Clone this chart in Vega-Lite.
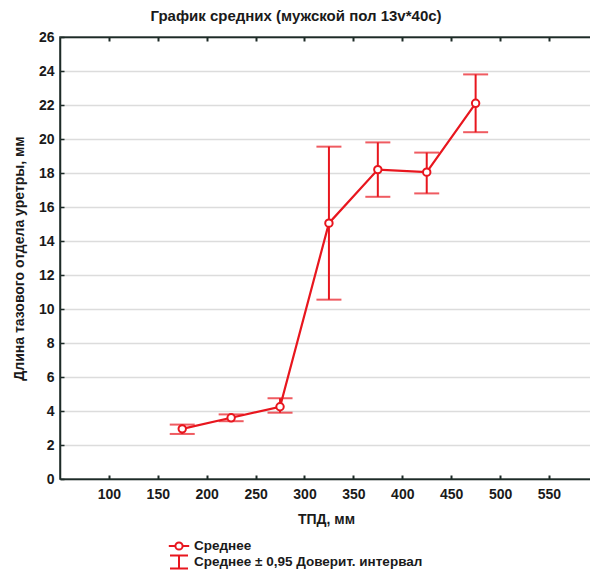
{
  "$schema": "https://vega.github.io/schema/vega-lite/v6.json",
  "width": 532,
  "height": 442,
  "autosize": "none",
  "padding": {"left": 60, "top": 37, "right": 0, "bottom": 103},
  "background": "white",
  "config": {
    "font": "Liberation Sans",
    "view": {"stroke": "#1d2b27", "strokeWidth": 1.5},
    "axisY": {
      "values": [0, 2, 4, 6, 8, 10, 12, 14, 16, 18, 20, 22, 24, 26],
      "labelOverlap": false,
      "grid": true, "gridColor": "#dcdcdc", "gridWidth": 1.5,
      "tickSize": -4, "tickWidth": 1.5, "tickColor": "#1d2b27",
      "domainColor": "#1d2b27", "domainWidth": 1.5,
      "labelFontSize": 14, "labelFontWeight": "bold", "labelColor": "#1a1a1a",
      "labelPadding": 10,
      "titleFontSize": 14, "titleFontWeight": "bold", "titleColor": "#1a1a1a", "titlePadding": 12
    }
  },
  "title": {
    "text": "График средних (мужской пол 13v*40c)",
    "fontSize": 15,
    "fontWeight": "bold",
    "color": "#1a1a1a",
    "dx": -30,
    "offset": 6
  },
  "data": {
    "values": [
      {"tpd": 175, "mean": 2.95, "lo": 2.65, "hi": 3.2},
      {"tpd": 225, "mean": 3.6, "lo": 3.4, "hi": 3.8},
      {"tpd": 275, "mean": 4.25, "lo": 3.9, "hi": 4.75},
      {"tpd": 325, "mean": 15.05, "lo": 10.55, "hi": 19.55},
      {"tpd": 375, "mean": 18.2, "lo": 16.6, "hi": 19.8},
      {"tpd": 425, "mean": 18.05, "lo": 16.8, "hi": 19.2},
      {"tpd": 475, "mean": 22.1, "lo": 20.4, "hi": 23.8}
    ]
  },
  "resolve": {"axis": {"x": "independent"}},
  "layer": [
    {
      "mark": {"type": "rule", "strokeWidth": 2},
      "encoding": {
        "x": {
          "field": "tpd", "type": "quantitative",
          "scale": {"domain": [50, 594], "nice": false, "zero": false},
          "axis": {
            "orient": "bottom",
            "values": [100, 150, 200, 250, 300, 350, 400, 450, 500, 550],
            "grid": false,
            "tickSize": -4, "tickWidth": 2, "tickColor": "#1d2b27",
            "domainColor": "#1d2b27", "domainWidth": 1.5,
            "labelFontSize": 14, "labelFontWeight": "bold", "labelColor": "#1a1a1a",
            "labelPadding": 12,
            "title": "ТПД, мм", "titleFontSize": 14, "titleFontWeight": "bold",
            "titleColor": "#1a1a1a", "titlePadding": 11
          }
        },
        "y": {
          "field": "lo", "type": "quantitative",
          "scale": {"domain": [0, 26], "nice": false},
          "axis": {"title": "Длина тазового отдела уретры, мм"}
        },
        "y2": {"field": "hi"},
        "color": {
          "datum": "Среднее ± 0,95 Доверит. интервал",
          "type": "nominal",
          "scale": {
            "domain": ["Среднее", "Среднее ± 0,95 Доверит. интервал"],
            "range": ["#e8161e", "#e8161e"]
          },
          "legend": {
            "orient": "none",
            "legendX": 112,
            "legendY": 502,
            "title": null,
            "labelFontSize": 13.5,
            "labelFontWeight": "bold",
            "labelColor": "#1a1a1a",
            "labelLimit": 0,
            "labelOffset": 8,
            "symbolSize": 144,
            "symbolStrokeColor": "#e8161e",
            "symbolStrokeWidth": 2,
            "rowPadding": -3,
            "encode": {
              "symbols": {
                "update": {
                  "shape": {"signal": "datum.value === 'Среднее' ? 'M-1.7,0H-0.6M0.6,0H1.7M-0.6,0A0.6,0.6 0 1,1 0.6,0A0.6,0.6 0 1,1 -0.6,0ZM-0.6,0A0.6,0.6 0 1,0 0.6,0A0.6,0.6 0 1,0 -0.6,0Z' : 'M-1.5,-1.1H1.5M0,-1.1V1.1M-1.5,1.1H1.5'"},
                  "stroke": {"value": "#e8161e"},
                  "strokeWidth": {"value": 2},
                  "opacity": {"value": 1}
                }
              }
            }
          }
        }
      }
    },
    {
      "mark": {"type": "tick", "orient": "horizontal", "size": 25, "thickness": 2},
      "encoding": {
        "x": {"field": "tpd", "type": "quantitative", "axis": null},
        "y": {"field": "lo", "type": "quantitative", "axis": {"title": "Длина тазового отдела уретры, мм"}},
        "color": {"datum": "Среднее ± 0,95 Доверит. интервал", "type": "nominal"}
      }
    },
    {
      "mark": {"type": "tick", "orient": "horizontal", "size": 25, "thickness": 2},
      "encoding": {
        "x": {
          "field": "tpd", "type": "quantitative",
          "axis": {
            "orient": "top",
            "values": [100, 150, 200, 250, 300, 350, 400, 450, 500, 550],
            "labels": false, "title": null, "grid": false,
            "tickSize": -4, "tickWidth": 2, "tickColor": "#1d2b27",
            "domainColor": "#1d2b27", "domainWidth": 1.5
          }
        },
        "y": {"field": "hi", "type": "quantitative", "axis": {"title": "Длина тазового отдела уретры, мм"}},
        "color": {"datum": "Среднее ± 0,95 Доверит. интервал", "type": "nominal"}
      }
    },
    {
      "mark": {"type": "line", "strokeWidth": 2.2},
      "encoding": {
        "x": {"field": "tpd", "type": "quantitative", "axis": null},
        "y": {"field": "mean", "type": "quantitative", "axis": {"title": "Длина тазового отдела уретры, мм"}},
        "color": {"datum": "Среднее", "type": "nominal"}
      }
    },
    {
      "mark": {"type": "point", "filled": false, "fill": "white", "size": 55, "strokeWidth": 2, "opacity": 1},
      "encoding": {
        "x": {"field": "tpd", "type": "quantitative", "axis": null},
        "y": {"field": "mean", "type": "quantitative", "axis": {"title": "Длина тазового отдела уретры, мм"}},
        "color": {"datum": "Среднее", "type": "nominal"}
      }
    }
  ]
}
